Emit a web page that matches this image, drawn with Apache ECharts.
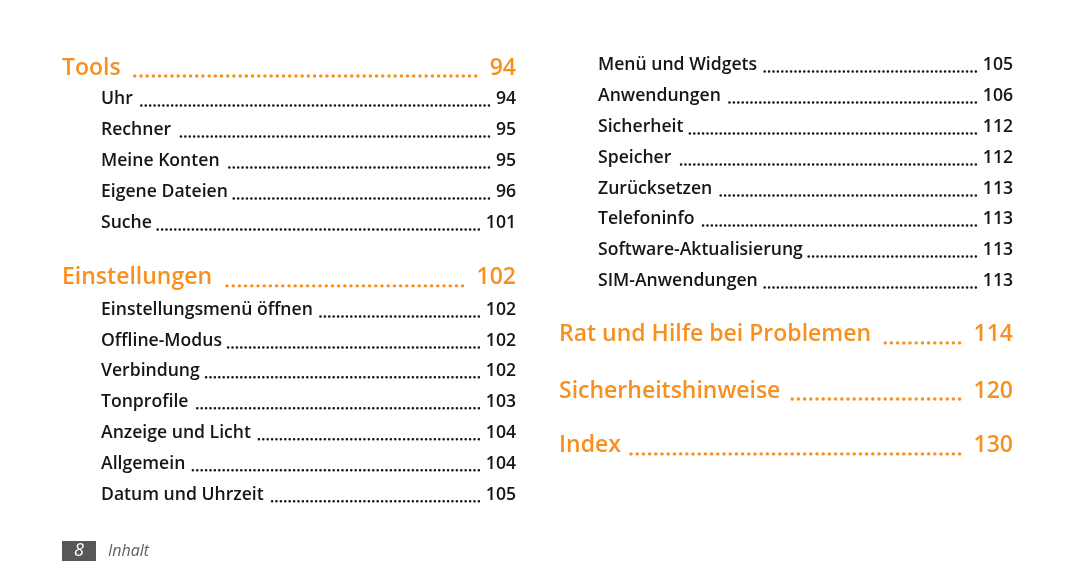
<!DOCTYPE html>
<html><head><meta charset="utf-8">
<script src="https://cdn.jsdelivr.net/npm/echarts@6/dist/echarts.min.js"></script>
<style>html,body{margin:0;padding:0;background:#fff}#c{width:1080px;height:586px}</style>
</head><body><div id="c"></div>
<script>
const names = ['Tools','Uhr','Rechner','Meine Konten','Eigene Dateien','Suche','Einstellungen','Einstellungsmenü öffnen','Offline-Modus','Verbindung','Tonprofile','Anzeige und Licht','Allgemein','Datum und Uhrzeit','Menü und Widgets','Anwendungen','Sicherheit','Speicher','Zurücksetzen','Telefoninfo','Software-Aktualisierung','SIM-Anwendungen','Rat und Hilfe bei Problemen','Sicherheitshinweise','Index'];
const pages = [94,94,95,95,96,101,102,102,102,102,103,104,104,105,105,106,112,112,113,113,113,113,114,120,130];
const levels = [1,2,2,2,2,2,1,2,2,2,2,2,2,2,2,2,2,2,2,2,2,2,1,1,1];
const columns = [0,0,0,0,0,0,0,0,0,0,0,0,0,0,1,1,1,1,1,1,1,1,1,1,1];
const rows = [0,1,2,3,4,5,6.77,7.81,8.81,9.77,10.77,11.77,12.77,13.77,-0.1,0.9,1.9,2.9,3.9,4.87,5.87,6.87,8.61,10.42,12.19];
const footerPage = '8';
const footerTitle = 'Inhalt';

const ORANGE = '#f7901e';
const FONT = '"Open Sans", "Noto Sans", sans-serif';
const mctx = document.createElement('canvas').getContext('2d');
function tw(t, f){ mctx.font = f; return mctx.measureText(t).width; }

const data = names.map((n,i)=>[columns[i], rows[i], i]);
const chart = echarts.init(document.getElementById('c'));
chart.setOption({
  animation:false,
  grid:{left:62, right:24, top:6, bottom:22},
  xAxis:{type:'value', min:0, max:2, show:false},
  yAxis:{type:'value', min:-2, max:16, inverse:true, show:false},
  series:[{
    type:'custom',
    data:data,
    renderItem:function(params, api){
      const i = api.value(2);
      const p = api.coord([api.value(0), api.value(1)]);
      const colW = api.size([0.9135, 0])[0];
      const head = levels[i] === 1;
      const font = head ? ('600 23px ' + FONT) : ('600 17.6px ' + FONT);
      const x0 = p[0] + (head ? 0 : 39);
      const x1 = p[0] + colW;
      const y = p[1];
      const color = head ? ORANGE : '#161616';
      const name = names[i], pg = String(pages[i]);
      const nw = tw(name, font), pw = tw(pg, font);
      const gapL = head ? 9 : 5.5, gapR = head ? 14 : 7;
      const pitch = head ? 6.2 : 4.4;
      const lx1 = x1 - pw - gapR;
      const n = Math.floor((lx1 - (x0 + nw + gapL)) / pitch);
      const lx0 = lx1 - n * pitch;
      const ly = y + (head ? 8 : 6.5);
      const dotW = head ? 3.4 : 2.5;
      return {type:'group', children:[
        {type:'text', style:{text:name, x:x0, y:y, font:font, fill:color, textAlign:'left', textVerticalAlign:'middle'}},
        {type:'line', shape:{x1:lx0, y1:ly, x2:lx1 + 0.2, y2:ly}, style:{stroke:color, lineWidth:dotW, lineCap:'round', lineDash:[0.1, pitch - 0.1]}},
        {type:'text', style:{text:pg, x:x1, y:y, font:font, fill:color, textAlign:'right', textVerticalAlign:'middle'}}
      ]};
    }
  }],
  graphic:[
    {type:'rect', shape:{x:62, y:541, width:34, height:20}, style:{fill:'#575757'}},
    {type:'text', style:{text:footerPage, x:79, y:551, font:'italic 18px ' + FONT, fill:'#ffffff', textAlign:'center', textVerticalAlign:'middle'}},
    {type:'text', style:{text:footerTitle, x:108, y:551, font:'italic 16px ' + FONT, fill:'#606060', textAlign:'left', textVerticalAlign:'middle'}}
  ]
});
</script></body></html>
